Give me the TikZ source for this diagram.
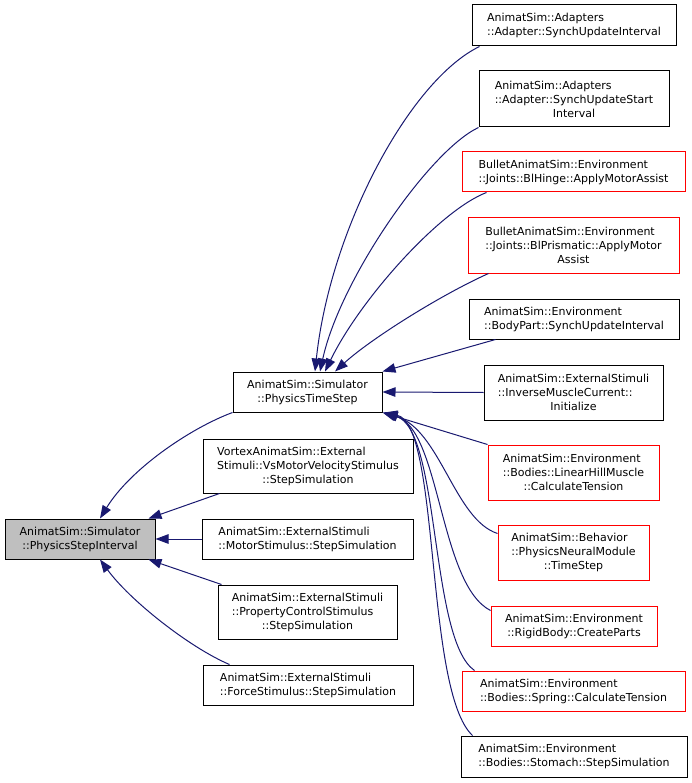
\documentclass[tikz,border=0pt]{standalone}
\usepackage{fontspec}
\setmainfont{DejaVu Sans}
\usepackage{tikz}
\usetikzlibrary{arrows.meta}
\definecolor{edgeblue}{HTML}{191970}
\definecolor{boxred}{HTML}{FF0000}
\tikzset{
	fn/.style={draw, rectangle, line width=1pt, inner sep=1pt, align=left, font=\fontsize{11}{14}\selectfont},
	fnred/.style={fn, draw=boxred},
	fnmain/.style={fn, fill=black!25},
	call/.style={draw=edgeblue, line width=1pt, -{Triangle[length=13pt,width=9.5pt]}}
}
% last line of a label is centred
\newcommand{\ctr}{\null\hfil}

\begin{document}
\begin{tikzpicture}[x=1pt, y=-1pt]
	\useasboundingbox (0,0) rectangle (692,783);
	% the function itself
	\node[fnmain, minimum width=150pt, minimum height=40pt] (interval) at (80,539) {AnimatSim::Simulator\\\ctr::PhysicsStepInterval};
	% callers
	\node[fn, minimum width=149pt, minimum height=40pt] (timestep) at (307.5,392) {AnimatSim::Simulator\\\ctr::PhysicsTimeStep};
	\node[fn, minimum width=210pt, minimum height=54pt] (vortex) at (308,466) {VortexAnimatSim::External\\Stimuli::VsMotorVelocityStimulus\\\ctr::StepSimulation};
	\node[fn, minimum width=211pt, minimum height=40pt] (motor) at (307.5,539) {AnimatSim::ExternalStimuli\\\ctr::MotorStimulus::StepSimulation};
	\node[fn, minimum width=179pt, minimum height=54pt] (propctrl) at (307.5,612) {AnimatSim::ExternalStimuli\\::PropertyControlStimulus\\\ctr::StepSimulation};
	\node[fn, minimum width=210pt, minimum height=40pt] (force) at (308,685) {AnimatSim::ExternalStimuli\\\ctr::ForceStimulus::StepSimulation};
	% callers of PhysicsTimeStep
	\node[fn, minimum width=204pt, minimum height=41pt] (adaptint) at (574,25.5) {AnimatSim::Adapters\\\ctr::Adapter::SynchUpdateInterval};
	\node[fn, minimum width=190pt, minimum height=56pt] (adaptstart) at (574,99) {AnimatSim::Adapters\\::Adapter::SynchUpdateStart\\\ctr Interval};
	\node[fnred, minimum width=223pt, minimum height=40pt] (blhinge) at (573.5,172) {BulletAnimatSim::Environment\\\ctr::Joints::BlHinge::ApplyMotorAssist};
	\node[fnred, minimum width=211pt, minimum height=55pt] (blprism) at (573.5,245.5) {BulletAnimatSim::Environment\\::Joints::BlPrismatic::ApplyMotor\\\ctr Assist};
	\node[fn, minimum width=210pt, minimum height=40pt] (bodypart) at (574,319) {AnimatSim::Environment\\\ctr::BodyPart::SynchUpdateInterval};
	\node[fn, minimum width=179pt, minimum height=55pt] (inverse) at (573.5,392.5) {AnimatSim::ExternalStimuli\\::InverseMuscleCurrent::\\\ctr Initialize};
	\node[fnred, minimum width=171pt, minimum height=55pt] (linhill) at (573.5,472.5) {AnimatSim::Environment\\::Bodies::LinearHillMuscle\\\ctr::CalculateTension};
	\node[fnred, minimum width=151pt, minimum height=55pt] (neural) at (573.5,552.5) {AnimatSim::Behavior\\::PhysicsNeuralModule\\\ctr::TimeStep};
	\node[fnred, minimum width=166pt, minimum height=40pt] (rigid) at (574,626) {AnimatSim::Environment\\\ctr::RigidBody::CreateParts};
	\node[fnred, minimum width=223pt, minimum height=40pt] (spring) at (573.5,691) {AnimatSim::Environment\\\ctr::Bodies::Spring::CalculateTension};
	\node[fn, minimum width=226pt, minimum height=41pt] (stomach) at (574,756.5) {AnimatSim::Environment\\\ctr::Bodies::Stomach::StepSimulation};

	\draw[call] (timestep.south west) .. controls +(-43,16) and +(30,-49) .. ([xshift=20pt]interval.north);
	\draw[call] ([xshift=17pt]vortex.south west) -- ([xshift=-7pt]interval.north east);
	\draw[call] (motor.west) -- (interval.east);
	\draw[call] ([xshift=4pt]propctrl.north west) -- ([xshift=-7pt]interval.south east);
	\draw[call] ([xshift=27pt]force.north west) .. controls +(-40,-17) and +(30,41) .. ([xshift=20pt]interval.south);

	\draw[call] ([xshift=8pt]adaptint.south west) .. controls +(-70,34) and +(15,-142) .. ([xshift=7.5pt]timestep.north);
	\draw[call] (adaptstart.south west) .. controls +(-49,23) and +(20,-92) .. ([xshift=12.5pt]timestep.north);
	\draw[call] ([xshift=25pt]blhinge.south west) .. controls +(-47,18) and +(35,-72) .. ([xshift=17.5pt]timestep.north);
	\draw[call] ([xshift=21pt]blprism.south west) .. controls +(-49,22) and +(35,-32) .. ([xshift=27.5pt]timestep.north);
	\draw[call] ([xshift=27pt]bodypart.south west) -- (timestep.north east);
	\draw[call] (inverse.west) -- (timestep.east);
	\draw[call] (linhill.north west) -- (timestep.south east);
	\draw[call] ([yshift=-9pt]neural.north west) .. controls +(-43,-14) and +(56,18) .. ([xshift=2pt]timestep.south east);
	\draw[call] ([yshift=-5pt]rigid.north west) .. controls +(-51,-26) and +(56,18) .. ([xshift=2pt]timestep.south east);
	\draw[call] ([xshift=13pt]spring.north west) .. controls +(-45,-31) and +(56,18) .. ([xshift=2pt]timestep.south east);
	\draw[call] ([xshift=12pt]stomach.north west) .. controls +(-48,-45) and +(56,12) .. ([xshift=2pt]timestep.south east);
\end{tikzpicture}
\end{document}
